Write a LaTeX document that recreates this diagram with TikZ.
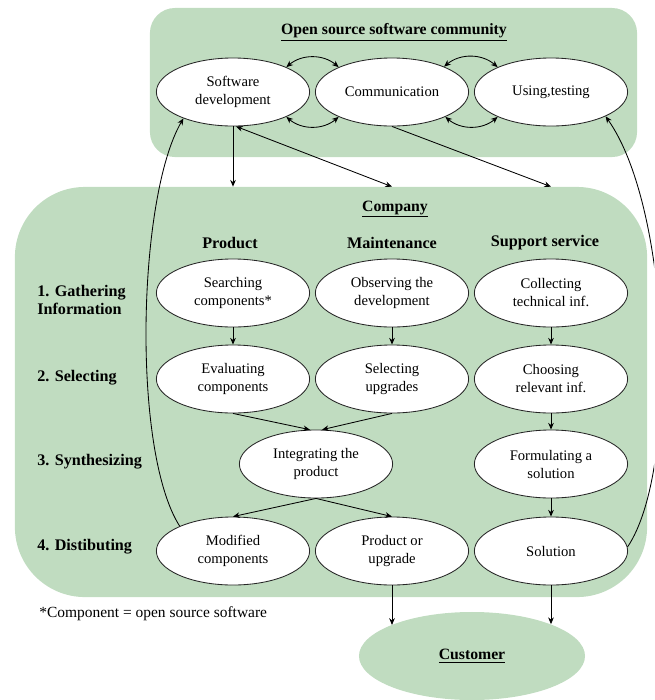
\documentclass[tikz,border=0pt]{standalone}
\usepackage{fontspec}
\setmainfont{Liberation Serif}
\usepackage{xcolor}
\usetikzlibrary{arrows.meta,positioning,shapes.geometric,backgrounds}
\definecolor{moneygreen}{RGB}{192,220,192}

\begin{document}
\begin{tikzpicture}[x=0.025cm, y=-0.025cm,
    % ---- styles ----
    E/.style={ellipse, draw=black!85, fill=white, line width=0.6pt,
              minimum width=3.83cm, minimum height=1.7cm, inner sep=0pt,
              align=center, font=\fontsize{10.4}{12.8}\selectfont},
    G/.style={draw=none, fill=moneygreen, rounded corners=#1, inner sep=0pt},
    T/.style={font=\fontsize{11.2}{13}\selectfont\bfseries},
    H/.style={font=\fontsize{11.5}{13}\selectfont\bfseries},
    L/.style={font=\fontsize{11.5}{12.5}\selectfont\bfseries, align=left,
              anchor=west, inner sep=0pt},
    A/.style={-{Stealth[length=4.8pt, width=4pt]}, line width=0.6pt},
    AA/.style={{Stealth[length=4.8pt, width=4pt]}-{Stealth[length=4.8pt, width=4pt]},
               line width=0.6pt},
]
\path[use as bounding box, clip] (0,0) rectangle (654,700);

% ===== Green areas =====
\begin{scope}[on background layer]
    \node[G=0.625cm, minimum width=12.175cm, minimum height=3.725cm] (oss) at (393.5,82.5) {};
    \node[G=1.75cm, minimum width=15.8cm, minimum height=10.25cm] (company) at (331,392) {};
\end{scope}

% ===== Open source software community =====
\node[T] (osstitle) at (394,32) {\underline{Open source software community}};
\node[E] (sw)   at (233,92) {Software\\development};
\node[E] (comm) at (392,92) {Communication};
\node[E] (use)  at (551,92) {Using,testing};

\draw[AA] (sw.25)   to[bend left=40]  (comm.155);
\draw[AA] (sw.-25)  to[bend right=40] (comm.205);
\draw[AA] (comm.26) to[bend left=40]  (use.155);
\draw[AA] (comm.-25) to[bend right=40] (use.205);

% ===== Company =====
\node[T] (comptitle) at (395,209) {\underline{Company}};
\node[H] (hprod)  at (230,243) {Product};
\node[H] (hmaint) at (392,243) {Maintenance};
\node[H] (hsupp)  at (545,243) {Support service};

\node[L] (l1) at (37,300) {1. Gathering\\Information};
\node[L] (l2) at (37,378) {2. Selecting};
\node[L] (l3) at (37,462) {3. Synthesizing};
\node[L] (l4) at (37,547) {4. Distibuting};

\node[E] (search)    at (233,293) {Searching\\components*};
\node[E] (observe)   at (392,293) {Observing the\\development};
\node[E] (collect)   at (551,293) {Collecting\\technical inf.};
\node[E] (evaluate)  at (233,379) {Evaluating\\components};
\node[E] (selup)     at (392,379) {Selecting\\upgrades};
\node[E] (choose)    at (551,379) {Choosing\\relevant inf.};
\node[E] (integrate) at (316,464) {Integrating the\\product};
\node[E] (formulate) at (551,464) {Formulating a\\solution};
\node[E] (modified)  at (233,551) {Modified\\components};
\node[E] (produp)    at (392,551) {Product or\\upgrade};
\node[E] (solution)  at (551,551) {Solution};

% community -> company
\draw[A]  (sw) -- (sw |- company.north);
\draw[AA] (sw.-85) -- (comm |- company.north);
\draw[A]  (comm.south) -- (use |- company.north);

% within company
\foreach \a/\b in {search/evaluate, observe/selup, collect/choose,
                   choose/formulate, formulate/solution}
    \draw[A] (\a) -- (\b);
\draw[A] (evaluate.south) -- (integrate.100);
\draw[A] (selup.south) -- (integrate.80);
\draw[A] (integrate.south) -- (modified.north);
\draw[A] (integrate.south) -- (produp.north);

% feedback to the community
\draw[A] (modified.155) .. controls +(-48,-75) and +(-46,79) .. (sw.208);
\draw[A] (solution.3) .. controls +(52,-77) and +(65,92) .. (use.-24);

% ===== Customer =====
\node[ellipse, fill=moneygreen, minimum width=5.65cm, minimum height=2.2cm,
      T] (customer) at (472,656) {\underline{Customer}};
\draw[A] (produp.south) -- (produp.south |- customer.159);
\draw[A] (solution.south) -- (solution.south |- customer.22);

\node[anchor=west, inner sep=0pt, font=\fontsize{11}{13}\selectfont] (note)
    at (39,614) {*Component = open source software};

\end{tikzpicture}
\end{document}
